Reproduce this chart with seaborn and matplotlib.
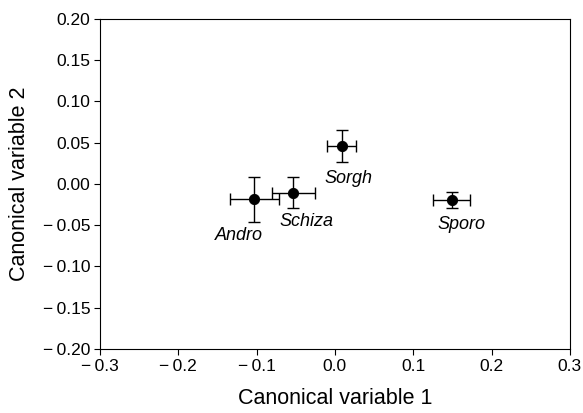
import numpy as np
import pandas as pd
import matplotlib
matplotlib.use("Agg")
import matplotlib.pyplot as plt
import seaborn as sns

# group means and standard errors on the two canonical variables
groups = ["Andro", "Schiza", "Sorgh", "Sporo"]
can1 = [-0.103, -0.053, 0.0085, 0.149]
can2 = [-0.0185, -0.0105, 0.046, -0.019]
err1 = [0.0315, 0.0277, 0.018, 0.024]
err2 = [0.0275, 0.019, 0.019, 0.0097]

# label offsets (data units) relative to each point
label_dx = [-0.019, 0.0166, 0.009, 0.012]
label_dy = [-0.0436, -0.035, -0.039, -0.030]

xticks = [-0.3, -0.2, -0.1, 0.0, 0.1, 0.2, 0.3]
yticks = [-0.20, -0.15, -0.10, -0.05, 0.00, 0.05, 0.10, 0.15, 0.20]

df = pd.DataFrame({"group": groups, "can1": can1, "can2": can2,
                   "err1": err1, "err2": err2})

sns.set_style("white", {"text.color": "black", "axes.labelcolor": "black",
                        "xtick.color": "black", "ytick.color": "black",
                        "axes.edgecolor": "black"})
plt.rcParams["font.family"] = ["Liberation Sans", "DejaVu Sans"]

fig = plt.figure(figsize=(5.83, 4.13), dpi=100)
ax = fig.add_axes([0.1715, 0.155, 0.806, 0.799])

ax.errorbar(df["can1"], df["can2"], xerr=df["err1"], yerr=df["err2"],
            fmt="none", ecolor="black", elinewidth=1.0, capsize=4, capthick=1.0)
sns.scatterplot(data=df, x="can1", y="can2", color="black", s=55,
                edgecolor="black", zorder=3, ax=ax)

for g, x, y, dx, dy in zip(groups, can1, can2, label_dx, label_dy):
    ax.text(x + dx, y + dy, g, style="italic", fontsize=13, color="black",
            ha="center", va="center")

ax.set_xlim(-0.3, 0.3)
ax.set_ylim(-0.2, 0.2)
ax.set_xticks(xticks)
ax.set_yticks(yticks)
ax.set_xticklabels([f"{v:.1f}".replace("-", "\u2212\u2009") for v in xticks])
ax.set_yticklabels([f"{v:.2f}".replace("-", "\u2212\u2009") for v in yticks])
ax.tick_params(axis="both", direction="out", length=4, width=0.8,
               labelsize=12.5, left=True, bottom=True, color="black",
               labelcolor="black", pad=3)
ax.set_xlabel("Canonical variable 1", fontsize=15.5, labelpad=10, color="black")
ax.set_ylabel("Canonical variable 2", fontsize=15.5, labelpad=9, color="black")
for sp in ax.spines.values():
    sp.set_color("black")
    sp.set_linewidth(0.8)

fig.savefig("out.png", dpi=100)
